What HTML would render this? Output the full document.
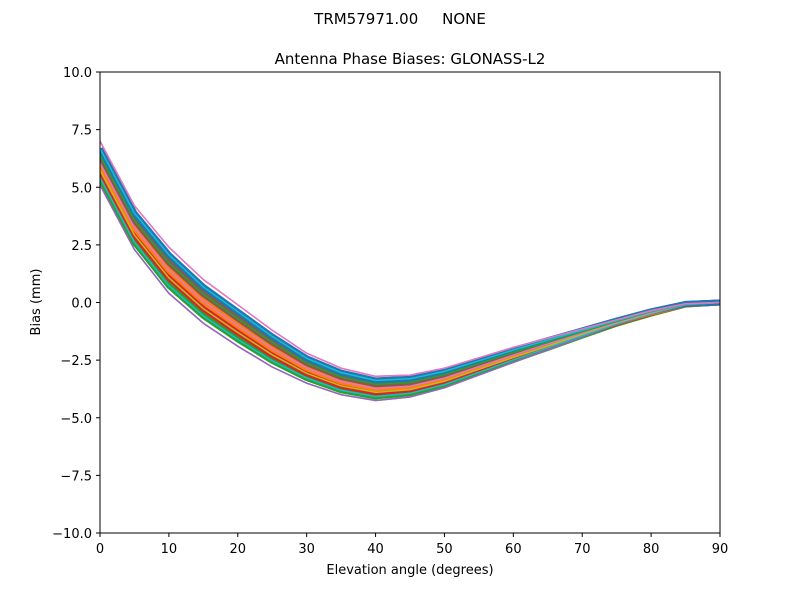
<!DOCTYPE html>
<html><head><meta charset="utf-8"><style>
body{margin:0;background:#fff;}
svg text{font-family:"DejaVu Sans","Liberation Sans",sans-serif;fill:#000;}
</style></head><body>
<svg id="chart" width="800" height="600" xmlns="http://www.w3.org/2000/svg">
<defs><clipPath id="pc"><rect x="100" y="72" width="620" height="461"/></clipPath></defs>
<rect width="800" height="600" fill="#fff"/>
<text x="400" y="24" font-size="15" text-anchor="middle" xml:space="preserve">TRM57971.00     NONE</text>
<text x="410" y="64" font-size="15" text-anchor="middle">Antenna Phase Biases: GLONASS-L2</text>
<g id="plot" clip-path="url(#pc)"></g>
<rect x="100" y="72" width="620" height="461" fill="none" stroke="#000" stroke-width="1"/>
<g id="axes"></g>
<text x="410" y="574" font-size="13" text-anchor="middle">Elevation angle (degrees)</text>
<text transform="translate(40,302) rotate(-90)" font-size="13" text-anchor="middle">Bias (mm)</text>
</svg>
<script>
const elevations=[0,5,10,15,20,25,30,35,40,45,50,55,60,65,70,75,80,85,90];
const s0=[5.1,2.3,0.4,-0.9,-1.9,-2.8,-3.5,-4.0,-4.25,-4.1,-3.7,-3.15,-2.6,-2.05,-1.5,-0.95,-0.5,-0.1,0];
const s1=[5.42,2.62,0.73,-0.58,-1.6,-2.53,-3.28,-3.81,-4.08,-3.94,-3.56,-3.03,-2.49,-1.97,-1.44,-0.92,-0.48,-0.09,0];
const s2=[5.73,2.93,1.07,-0.27,-1.3,-2.27,-3.07,-3.62,-3.9,-3.78,-3.42,-2.9,-2.38,-1.88,-1.38,-0.88,-0.45,-0.08,0];
const s3=[6.05,3.25,1.4,0.05,-1.0,-2.0,-2.85,-3.43,-3.73,-3.63,-3.28,-2.78,-2.28,-1.8,-1.33,-0.85,-0.43,-0.08,0];
const s4=[6.37,3.57,1.73,0.37,-0.7,-1.73,-2.63,-3.23,-3.55,-3.47,-3.13,-2.65,-2.17,-1.72,-1.27,-0.82,-0.4,-0.07,0];
const s5=[6.68,3.88,2.07,0.68,-0.4,-1.47,-2.42,-3.04,-3.38,-3.31,-2.99,-2.53,-2.06,-1.63,-1.21,-0.78,-0.38,-0.06,0];
const s6=[7.0,4.2,2.4,1.0,-0.1,-1.2,-2.2,-2.85,-3.2,-3.15,-2.85,-2.4,-1.95,-1.55,-1.15,-0.75,-0.35,-0.05,0];
const xTicks=[0,10,20,30,40,50,60,70,80,90];
const yTicks=[10,7.5,5,2.5,0,-2.5,-5,-7.5,-10];
const yTickLabels=["10.0","7.5","5.0","2.5","0.0","\u22122.5","\u22125.0","\u22127.5","\u221210.0"];

const NS="http://www.w3.org/2000/svg";
const X=v=>100+v/90*620;
const Y=v=>72+(10-v)/20*461;
const series=[s0,s1,s2,s3,s4,s5,s6];
const colors=["#9467bd","#2ca02c","#d62728","#ff7f0e","#8c564b","#1f77b4","#e377c2"];
const edgeColors=["#9467bd","#17becf","#bcbd22","#e377c2","#2ca02c","#17becf","#e377c2"];
const plot=document.getElementById('plot');
series.forEach((s,k)=>{
  const pts=s.map((v,i)=>X(elevations[i]).toFixed(1)+","+Y(v).toFixed(1)).join(" ");
  const pl=document.createElementNS(NS,'polyline');
  
  
  pl.setAttribute('points',pts);
  pl.setAttribute('fill','none');
  pl.setAttribute('stroke',colors[k]);
  pl.setAttribute('stroke-width',(k===0||k===6)?'1.5':'6');
  pl.setAttribute('stroke-linejoin','round');
  pl.setAttribute('stroke-linecap','butt');
  plot.appendChild(pl);
});
series.forEach((s,k)=>{
  const pts=s.map((v,i)=>X(elevations[i]).toFixed(1)+","+Y(v).toFixed(1)).join(" ");
  const pl=document.createElementNS(NS,'polyline');
  
  
  pl.setAttribute('points',pts);
  pl.setAttribute('fill','none');
  pl.setAttribute('stroke',edgeColors[k]);
  pl.setAttribute('stroke-width','1.5');
  plot.appendChild(pl);
});
const axes=document.getElementById('axes');
xTicks.forEach(t=>{
  const l=document.createElementNS(NS,'line');
  
  
  l.setAttribute('x1',X(t));l.setAttribute('x2',X(t));l.setAttribute('y1',533);l.setAttribute('y2',537);
  l.setAttribute('stroke','#000');
  axes.appendChild(l);
  const tx=document.createElementNS(NS,'text');
  
  
  tx.setAttribute('x',X(t));tx.setAttribute('y',553);tx.setAttribute('font-size','13');tx.setAttribute('text-anchor','middle');
  tx.textContent=t;
  axes.appendChild(tx);
});
yTicks.forEach((t,i)=>{
  const l=document.createElementNS(NS,'line');
  
  
  l.setAttribute('x1',96);l.setAttribute('x2',100);l.setAttribute('y1',Y(t));l.setAttribute('y2',Y(t));
  l.setAttribute('stroke','#000');
  axes.appendChild(l);
  const tx=document.createElementNS(NS,'text');
  
  
  tx.setAttribute('x',92);tx.setAttribute('y',Y(t)+5);tx.setAttribute('font-size','13');tx.setAttribute('text-anchor','end');
  tx.textContent=yTickLabels[i];
  axes.appendChild(tx);
});
</script>
</body></html>
